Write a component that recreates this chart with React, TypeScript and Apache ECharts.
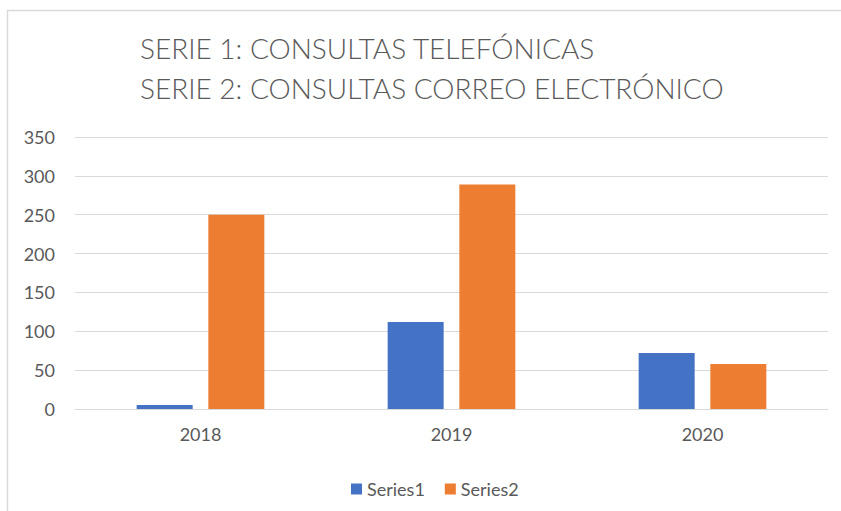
import React, { useEffect, useRef } from "react";
import * as echarts from "echarts";

const categories = ["2018", "2019", "2020"];
const series1 = [5, 112, 72];
const series2 = [250, 289, 58];
const titleLines = ["SERIE 1: CONSULTAS TELEFÓNICAS", "SERIE 2: CONSULTAS CORREO ELECTRÓNICO"];
const seriesNames = ["Series1", "Series2"];

export default function App() {
  const ref = useRef<HTMLDivElement>(null);
  useEffect(() => {
    if (!ref.current) return;
    const chart = echarts.init(ref.current, null, { renderer: "svg" });
    const font = "Lato, 'Open Sans', sans-serif";
    chart.setOption({
      animation: false,
      backgroundColor: "#ffffff",
      textStyle: { fontFamily: font },
      graphic: [
        {
          type: "rect",
          shape: { x: 7.5, y: 10.5, width: 900, height: 600 },
          style: { fill: "none", stroke: "#d9d9d9", lineWidth: 1.5 },
          silent: true,
        },
        {
          type: "text",
          left: 140,
          top: 34,
          style: { text: titleLines[0], fontSize: 28, fontFamily: font, fontWeight: 300, fill: "#595959" },
        },
        {
          type: "text",
          left: 140,
          top: 74,
          style: { text: titleLines[1], fontSize: 28, fontFamily: font, fontWeight: 300, fill: "#595959" },
        },
      ],
      grid: { left: 75, right: 13, top: 137, bottom: 102, containLabel: false },
      legend: {
        left: 346,
        top: 475,
        itemWidth: 11,
        itemHeight: 11,
        itemGap: 20,
        icon: "rect",
        textStyle: { fontSize: 18, color: "#595959", fontFamily: font },
        data: seriesNames,
      },
      xAxis: {
        type: "category",
        data: categories,
        axisLine: { lineStyle: { color: "#d9d9d9", width: 1 } },
        axisTick: { show: false },
        axisLabel: { color: "#595959", fontSize: 18, margin: 16, fontFamily: font },
      },
      yAxis: {
        type: "value",
        min: 0,
        max: 350,
        interval: 50,
        axisLine: { show: false },
        axisTick: { show: false },
        splitLine: { lineStyle: { color: "#d9d9d9", width: 1 } },
        axisLabel: { color: "#595959", fontSize: 18, margin: 20, fontFamily: font },
      },
      series: [
        {
          name: seriesNames[0],
          type: "bar",
          data: series1,
          barWidth: 56,
          barGap: "28%",
          itemStyle: { color: "#4472c4" },
        },
        {
          name: seriesNames[1],
          type: "bar",
          data: series2,
          barWidth: 56,
          itemStyle: { color: "#ed7d31" },
        },
      ],
    });
    return () => chart.dispose();
  }, []);
  return (
    <div
      ref={ref}
      style={{ position: "absolute", left: 0, top: 0, width: 841, height: 511 }}
    />
  );
}
